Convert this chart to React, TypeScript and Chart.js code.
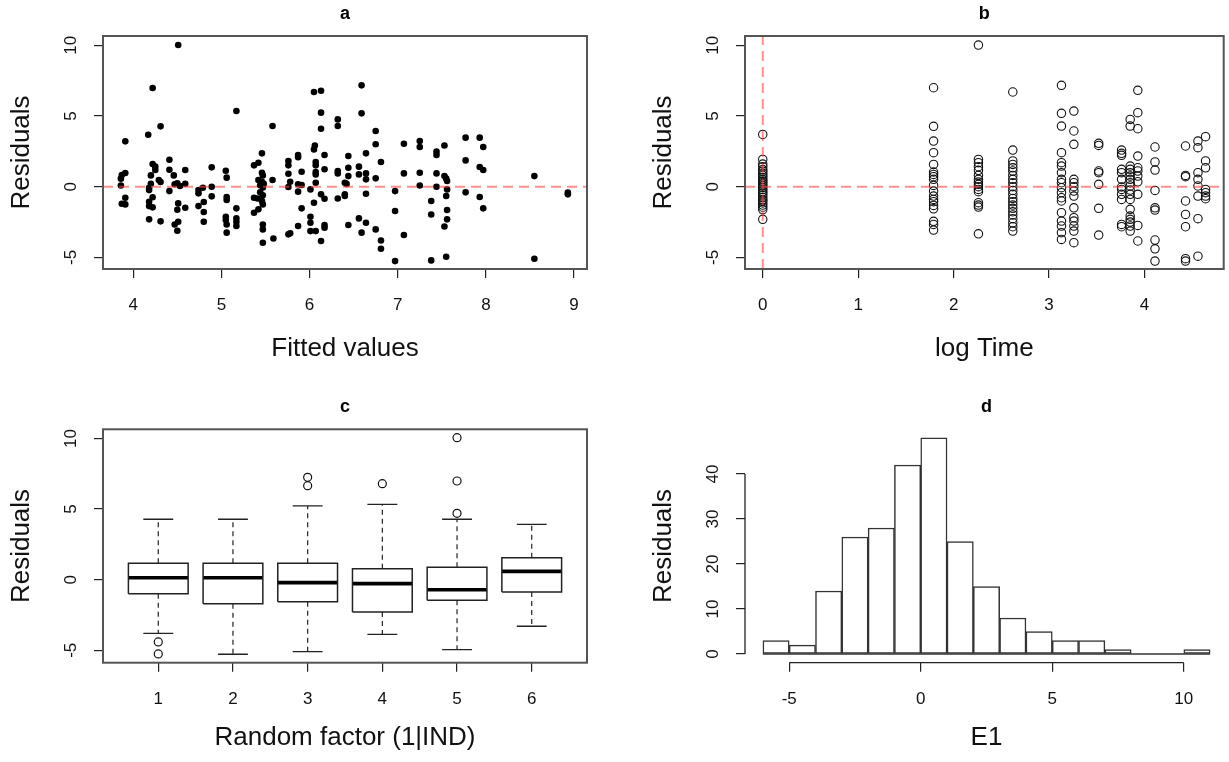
import React, { useEffect, useRef } from "react";
import { Chart, registerables } from "chart.js";

Chart.register(...registerables);

const FONT = '"Liberation Sans", Arial, Helvetica, sans-serif';
const RED = "rgba(255, 70, 70, 0.6)";

// ---------- Panel a: residuals vs fitted values ----------
const A_FITTED = [
  3.91, 3.91, 3.87, 3.86, 3.86, 3.91, 3.87, 3.91,
  4.22, 4.31, 4.17, 4.22, 4.25, 4.25, 4.2, 4.29, 4.31, 4.2, 4.18, 4.18, 4.22, 4.18, 4.18, 4.22, 4.18, 4.31,
  4.51, 4.41, 4.41, 4.46, 4.59, 4.5, 4.47, 4.41, 4.59, 4.53, 4.51, 4.5, 4.59, 4.51, 4.47, 4.5,
  4.89, 4.74, 4.74, 4.79, 4.89, 4.89, 4.74, 4.8, 4.8, 4.8,
  5.17, 5.05, 5.06, 5.06, 5.06, 5.17, 5.05, 5.05, 5.06, 5.06, 5.17, 5.17, 5.17,
  5.46, 5.37, 5.42, 5.46, 5.47, 5.42, 5.46, 5.48, 5.44, 5.47, 5.44, 5.47, 5.37, 5.41, 5.46, 5.47, 5.37, 5.42, 5.47, 5.47, 5.47,
  5.58, 5.58, 5.59,
  5.76, 5.76, 5.87, 5.87, 5.91, 5.76, 5.78, 5.76, 5.87, 5.91, 5.87, 5.91, 5.87, 5.76, 5.78,
  6.05, 6.13, 6.13, 6.13, 6.06, 6.05, 6.17, 6.07, 6.07, 6.07, 6.07, 6.07, 6.17, 6.01, 6.05, 6.13, 6.17, 6.01, 6.01, 6.01, 6.07, 6.17, 6.17, 6.13,
  6.32, 6.32, 6.32, 6.32, 6.32, 6.44, 6.44, 6.44, 6.4, 6.42, 6.4, 6.4, 6.44,
  6.59, 6.59, 6.56, 6.56, 6.64, 6.64, 6.64, 6.64, 6.56, 6.64, 6.59,
  6.75, 6.75, 6.81, 6.75, 6.75, 6.81, 6.81,
  6.97, 6.97, 6.97,
  7.07, 7.07, 7.07,
  7.25, 7.25, 7.25, 7.25,
  7.38, 7.38, 7.38,
  7.44, 7.44, 7.44, 7.44,
  7.53, 7.53, 7.55, 7.56, 7.56, 7.55, 7.56, 7.56, 7.53, 7.55,
  7.77, 7.77, 7.77,
  7.93, 7.97, 7.93, 7.97, 7.93, 7.97,
  8.55, 8.55,
  8.93, 8.93,
];
const A_RESID = [
  3.21, 0.97, 0.83, 0.57, 0.09, -0.78, -1.2, -1.25,
  6.98, 4.27, 3.68, 1.6, 1.42, 1.18, 0.8, 0.47, 0.33, 0.21, -0.07, -0.24, -0.75, -1.06, -1.37, -1.46, -2.31, -2.45,
  10.02, 1.91, 1.2, 0.8, 1.18, 0.24, 0.17, -0.31, 0.21, 0.05, -1.18, -1.63, -1.49, -2.48, -2.67, -3.11,
  1.37, -0.24, -0.47, -0.07, 0.0, -0.68, -1.37, -1.08, -1.79, -2.48,
  5.35, 1.13, 0.64, -0.73, -0.94, -1.53, -2.12, -2.36, -2.67, -3.25, -2.24, -2.5, -2.78,
  2.36, 1.51, 1.7, 0.99, 0.8, 0.47, 0.35, 0.2, 0.1, -0.05, -0.4, -0.6, -0.78, -0.83, -1.01, -1.25, -1.84, -1.6, -2.67, -3.02, -3.96,
  4.29, 0.47, -3.66,
  1.82, 1.51, 2.24, 2.08, 1.06, 0.92, 0.35, -0.02, 0.17, 0.12, -0.35, -1.53, -2.78, -3.37, -3.3,
  6.7, 6.79, 5.24, 4.1, 2.92, 2.64, 2.24, 1.75, 1.51, 1.04, 0.87, 0.28, 1.23, -0.19, -1.13, -0.54, -0.85, -2.12, -2.55, -3.14, -3.14, -2.71, -2.9, -3.84,
  4.76, 4.29, 1.11, 0.94, -0.83, 2.17, 1.34, 0.75, 0.28, 0.2, -0.54, -0.66, -2.71,
  7.17, 5.19, 1.42, 0.87, 2.36, 0.94, 0.52, -0.5, -2.24, -2.55, -3.25,
  3.94, 3.0, 1.75, 0.59, -3.02, -3.8, -4.39,
  -0.31, -1.72, -5.26,
  3.04, 0.94, -3.42,
  3.23, 2.81, 0.99, 0.09,
  -1.01, -1.96, -5.21,
  2.48, 2.24, 0.94, 0.0,
  2.92, 0.75, 0.57, 0.4, -0.19, -0.66, -1.65, -2.31, -2.81, -4.95,
  3.47, 1.86, -0.4,
  3.47, 2.81, 1.39, 1.18, -0.73, -1.53,
  0.75, -5.09,
  -0.42, -0.54,
];
const A_X_TICKS = [4, 5, 6, 7, 8, 9];
const A_X_RANGE = [3.657, 9.147];

// ---------- Panel b: residuals vs log time ----------
const B_LOG_TIME = [0, 1.79, 2.26, 2.62, 3.13, 3.26, 3.52, 3.76, 3.85, 3.93, 4.11, 4.43, 4.56, 4.64];
const B_RESID = [
  [3.7, 1.93, 1.6, 1.42, 1.21, 1.1, 0.94, 0.8, 0.66, 0.52, 0.41, 0.3, 0.18, 0.06, -0.05, -0.2, -0.33, -0.45, -0.58, -0.75, -0.9, -1.0, -1.15, -1.3, -1.45, -1.62, -2.31],
  [7.0, 4.27, 3.23, 2.41, 1.58, 1.04, 0.87, 0.71, 0.52, 0.09, -0.31, -0.66, -0.9, -1.06, -1.32, -1.56, -2.45, -2.67, -3.07],
  [10.02, 1.93, 1.7, 1.42, 1.16, 0.8, 0.52, 0.33, 0.17, 0.0, -0.19, -0.35, -1.13, -1.3, -1.44, -3.33],
  [6.7, 2.59, 1.82, 1.58, 1.34, 1.11, 0.8, 0.52, 0.28, 0.0, -0.26, -0.54, -0.83, -1.06, -1.3, -1.53, -1.77, -2.0, -2.26, -2.55, -2.83, -3.14],
  [7.17, 5.19, 4.29, 2.41, 1.7, 1.46, 0.99, 0.52, 0.28, -0.07, -0.42, -0.78, -1.01, -1.84, -2.43, -2.78, -3.25, -3.73],
  [5.35, 3.94, 3.0, 0.52, 0.28, 0.0, -0.31, -0.66, -1.49, -2.19, -2.43, -2.78, -3.14, -3.96],
  [3.07, 2.92, 1.11, 0.99, 0.17, -1.53, -3.42],
  [2.59, 2.36, 2.22, 1.23, 0.99, 0.52, -0.02, -0.19, -0.54, -0.9, -2.67, -2.83],
  [4.76, 4.29, 1.46, 1.23, 0.99, 0.75, 0.52, 0.28, 0.05, -0.24, -0.54, -0.9, -1.6, -2.08, -2.31, -2.5, -2.78, -3.14],
  [6.82, 5.24, 4.1, 2.17, 1.34, 1.11, 0.75, 0.35, -0.54, -2.74, -3.84],
  [2.81, 1.75, 1.18, -0.26, -1.49, -1.65, -3.77, -4.39, -5.26],
  [2.88, 0.8, 0.71, -1.01, -1.96, -2.83, -5.09, -5.26],
  [3.23, 2.76, 0.99, 0.52, 0.05, -0.66, -2.26, -4.91],
  [3.54, 1.82, 1.34, -0.19, -0.42, -0.66, -0.85],
];
const B_X_TICKS = [0, 1, 2, 3, 4];
const B_X_RANGE = [-0.186, 4.83];

// shared residual axis (a, b, c)
const RES_TICKS = [-5, 0, 5, 10];
const RES_RANGE = [-5.82, 10.66];

// ---------- Panel c: boxplots by random factor ----------
const C_GROUPS = [1, 2, 3, 4, 5, 6];
const C_LOWER = [-3.8, -5.28, -5.1, -3.87, -4.96, -3.3];
const C_Q1 = [-0.99, -1.7, -1.56, -2.29, -1.46, -0.87];
const C_MEDIAN = [0.14, 0.14, -0.21, -0.28, -0.71, 0.59];
const C_Q3 = [1.16, 1.16, 1.16, 0.78, 0.88, 1.56];
const C_UPPER = [4.28, 4.28, 5.22, 5.34, 4.28, 3.92];
const C_OUT_GROUP = [1, 1, 3, 3, 4, 5, 5, 5];
const C_OUT_RESID = [-4.41, -5.26, 7.25, 6.66, 6.8, 10.06, 6.99, 4.7];
const C_X_RANGE = [0.26, 6.74];
const C_Y_RANGE = [-5.88, 10.65];

// ---------- Panel d: histogram of E1 ----------
const D_BIN_EDGES = [-6, -5, -4, -3, -2, -1, 0, 1, 2, 3, 4, 5, 6, 7, 8, 9, 10, 11];
const D_COUNTS = [3, 2, 14, 26, 28, 42, 48, 25, 15, 8, 5, 3, 3, 1, 0, 0, 1];
const D_X_TICKS = [-5, 0, 5, 10];
const D_Y_TICKS = [0, 10, 20, 30, 40];
const D_X_RANGE = [-6.68, 11.68];
const D_Y_RANGE = [-1.92, 49.92];

// ---------- styling helpers ----------
const BOX_HALF = 0.4;
const STAPLE_HALF = 0.2;
const tickFont = { family: FONT, size: 17 };
const axisTitleFont = { family: FONT, size: 26 };
const INK = "#111";

const boxPlugin = {
  id: "rbox",
  afterDraw(chart: any) {
    const { ctx, chartArea: a } = chart;
    ctx.save();
    ctx.strokeStyle = "#555";
    ctx.lineWidth = 2;
    ctx.strokeRect(a.left, a.top, a.right - a.left, a.bottom - a.top);
    ctx.restore();
  },
};

const histAxisPlugin = {
  id: "raxis",
  afterDraw(chart: any) {
    const { ctx, chartArea: a, scales } = chart;
    const x = scales.x;
    const y = scales.y;
    ctx.save();
    ctx.strokeStyle = "#222";
    ctx.lineWidth = 1.3;
    ctx.beginPath();
    ctx.moveTo(x.getPixelForValue(D_X_TICKS[0]), a.bottom);
    ctx.lineTo(x.getPixelForValue(D_X_TICKS[D_X_TICKS.length - 1]), a.bottom);
    ctx.moveTo(a.left, y.getPixelForValue(D_Y_TICKS[0]));
    ctx.lineTo(a.left, y.getPixelForValue(D_Y_TICKS[D_Y_TICKS.length - 1]));
    ctx.stroke();
    ctx.restore();
  },
};

type FrameSpec = {
  title: string;
  xTitle: string;
  xRange: number[];
  xTicks: number[];
  yRange: number[];
  yTicks: number[];
  xAxisHeight: number;
  xTitlePad: number;
  rightPad: number;
  titlePadTop: number;
  titlePadBottom: number;
};

function frameOptions(p: FrameSpec) {
  const grid = {
    display: true,
    drawOnChartArea: false,
    drawTicks: true,
    tickLength: 9,
    color: "#222",
    lineWidth: 1.2,
    offset: false,
  };
  return {
    responsive: false,
    animation: false,
    devicePixelRatio: 1,
    layout: { padding: { left: 0, right: p.rightPad, top: 0, bottom: 0 } },
    plugins: {
      legend: { display: false },
      tooltip: { enabled: false },
      title: {
        display: true,
        text: p.title,
        fullSize: false,
        color: "#000",
        font: { family: FONT, size: 18, weight: "bold" },
        padding: { top: p.titlePadTop, bottom: p.titlePadBottom },
      },
    },
    scales: {
      x: {
        type: "linear",
        position: "bottom",
        min: p.xRange[0],
        max: p.xRange[1],
        offset: false,
        afterBuildTicks: (s: any) => {
          s.ticks = p.xTicks.map((v) => ({ value: v }));
        },
        afterFit: (s: any) => {
          s.height = p.xAxisHeight;
        },
        grid,
        border: { display: false },
        ticks: {
          font: tickFont,
          color: INK,
          padding: 17,
          minRotation: 0,
          maxRotation: 0,
          autoSkip: false,
          callback: (v: any) => String(v),
        },
        title: {
          display: true,
          text: p.xTitle,
          color: INK,
          font: axisTitleFont,
          padding: { top: 0, bottom: p.xTitlePad },
        },
      },
      y: {
        type: "linear",
        position: "left",
        min: p.yRange[0],
        max: p.yRange[1],
        afterBuildTicks: (s: any) => {
          s.ticks = p.yTicks.map((v) => ({ value: v }));
        },
        afterFit: (s: any) => {
          s.width = 103;
        },
        grid,
        border: { display: false },
        ticks: {
          font: tickFont,
          color: INK,
          padding: 13,
          minRotation: 90,
          maxRotation: 90,
          crossAlign: "center",
          autoSkip: false,
          callback: (v: any) => String(v),
        },
        title: {
          display: true,
          text: "Residuals",
          color: INK,
          font: axisTitleFont,
          padding: { top: 6, bottom: 0 },
        },
      },
    },
  };
}

const TOP = { xAxisHeight: 124, xTitlePad: 29, titlePadTop: 3, titlePadBottom: 11.4 };
const BOTTOM = { xAxisHeight: 99.3, xTitlePad: 8.4, titlePadTop: 3, titlePadBottom: 11.7 };

function dashed(data: any[]) {
  return {
    type: "line",
    data,
    borderColor: RED,
    borderWidth: 2,
    borderDash: [10, 6],
    pointRadius: 0,
    fill: false,
  };
}

function makeA() {
  const pts = A_FITTED.map((x, i) => ({ x, y: A_RESID[i] })).filter((p) => p.y !== undefined);
  return {
    type: "scatter",
    data: {
      datasets: [
        dashed([
          { x: A_X_RANGE[0], y: 0 },
          { x: A_X_RANGE[1], y: 0 },
        ]),
        {
          data: pts,
          pointRadius: 3.3,
          pointBackgroundColor: "#000",
          pointBorderColor: "#000",
          pointBorderWidth: 0,
        },
      ],
    },
    options: frameOptions({
      title: "a",
      xTitle: "Fitted values",
      xRange: A_X_RANGE,
      xTicks: A_X_TICKS,
      yRange: RES_RANGE,
      yTicks: RES_TICKS,
      rightPad: 55,
      ...TOP,
    }),
    plugins: [boxPlugin],
  };
}

function makeB() {
  const pts = B_LOG_TIME.flatMap((t, i) => B_RESID[i].map((r) => ({ x: t, y: r })));
  return {
    type: "scatter",
    data: {
      datasets: [
        dashed([
          { x: B_X_RANGE[0], y: 0 },
          { x: B_X_RANGE[1], y: 0 },
        ]),
        dashed([
          { x: 0, y: RES_RANGE[0] },
          { x: 0, y: RES_RANGE[1] },
        ]),
        {
          data: pts,
          pointRadius: 4.2,
          pointBackgroundColor: "rgba(0,0,0,0)",
          pointBorderColor: "#111",
          pointBorderWidth: 1.1,
        },
      ],
    },
    options: frameOptions({
      title: "b",
      xTitle: "log Time",
      xRange: B_X_RANGE,
      xTicks: B_X_TICKS,
      yRange: RES_RANGE,
      yTicks: RES_TICKS,
      rightPad: 1,
      ...TOP,
    }),
    plugins: [boxPlugin],
  };
}

function makeC() {
  const boxes: any[] = [];
  const medians: any[] = [];
  const whiskers: any[] = [];
  const staples: any[] = [];
  C_GROUPS.forEach((g, i) => {
    boxes.push(
      { x: g - BOX_HALF, y: C_Q1[i] },
      { x: g + BOX_HALF, y: C_Q1[i] },
      { x: g + BOX_HALF, y: C_Q3[i] },
      { x: g - BOX_HALF, y: C_Q3[i] },
      { x: g - BOX_HALF, y: C_Q1[i] },
      { x: g, y: null }
    );
    medians.push({ x: g - BOX_HALF, y: C_MEDIAN[i] }, { x: g + BOX_HALF, y: C_MEDIAN[i] }, { x: g, y: null });
    whiskers.push(
      { x: g, y: C_Q3[i] },
      { x: g, y: C_UPPER[i] },
      { x: g, y: null },
      { x: g, y: C_Q1[i] },
      { x: g, y: C_LOWER[i] },
      { x: g, y: null }
    );
    staples.push(
      { x: g - STAPLE_HALF, y: C_UPPER[i] },
      { x: g + STAPLE_HALF, y: C_UPPER[i] },
      { x: g, y: null },
      { x: g - STAPLE_HALF, y: C_LOWER[i] },
      { x: g + STAPLE_HALF, y: C_LOWER[i] },
      { x: g, y: null }
    );
  });
  const outliers = C_OUT_GROUP.map((g, i) => ({ x: g, y: C_OUT_RESID[i] }));
  const seg = (data: any[], width: number, dash: number[] = []) => ({
    type: "line",
    data,
    borderColor: "#222",
    borderWidth: width,
    borderDash: dash,
    pointRadius: 0,
    spanGaps: false,
    fill: false,
  });
  return {
    type: "scatter",
    data: {
      datasets: [
        seg(whiskers, 1.2, [5, 4]),
        seg(staples, 1.3),
        seg(boxes, 1.5),
        { ...seg(medians, 3.6), borderColor: "#000" },
        {
          data: outliers,
          pointRadius: 4,
          pointBackgroundColor: "rgba(0,0,0,0)",
          pointBorderColor: "#111",
          pointBorderWidth: 1.2,
        },
      ],
    },
    options: frameOptions({
      title: "c",
      xTitle: "Random factor (1|IND)",
      xRange: C_X_RANGE,
      xTicks: C_GROUPS,
      yRange: C_Y_RANGE,
      yTicks: RES_TICKS,
      rightPad: 55,
      ...BOTTOM,
    }),
    plugins: [boxPlugin],
  };
}

function makeD() {
  const bars = D_COUNTS.map((c, i) => ({ x: (D_BIN_EDGES[i] + D_BIN_EDGES[i + 1]) / 2, y: c }));
  const opts: any = frameOptions({
    title: "d",
    xTitle: "E1",
    xRange: D_X_RANGE,
    xTicks: D_X_TICKS,
    yRange: D_Y_RANGE,
    yTicks: D_Y_TICKS,
    rightPad: 1,
    ...BOTTOM,
  });
  opts.scales.x.grid = { ...opts.scales.x.grid, offset: false };
  return {
    type: "scatter",
    data: {
      datasets: [
        {
          type: "bar",
          data: bars,
          backgroundColor: "#fff",
          borderColor: "#333",
          borderWidth: 1.5,
          borderSkipped: false,
          barPercentage: 1,
          categoryPercentage: 1,
        },
        {
          type: "line",
          data: [
            { x: D_BIN_EDGES[0], y: 0 },
            { x: D_BIN_EDGES[D_BIN_EDGES.length - 1], y: 0 },
          ],
          borderColor: "#333",
          borderWidth: 1.5,
          pointRadius: 0,
          fill: false,
        },
      ],
    },
    options: opts,
    plugins: [histAxisPlugin],
  };
}

function Panel({ make, x, y, w, h }: { make: () => any; x: number; y: number; w: number; h: number }) {
  const ref = useRef<HTMLCanvasElement>(null);
  useEffect(() => {
    const chart = new Chart(ref.current as HTMLCanvasElement, make());
    return () => chart.destroy();
  }, []);
  return (
    <canvas
      ref={ref}
      width={w}
      height={h}
      style={{ position: "absolute", left: x, top: y, width: w, height: h, display: "block" }}
    />
  );
}

export default function App() {
  return (
    <div
      style={{
        position: "absolute",
        left: 0,
        top: 0,
        width: 1229,
        height: 762,
        background: "#fff",
        overflow: "hidden",
      }}
    >
      <Panel make={makeA} x={0} y={0} w={642} h={393} />
      <Panel make={makeB} x={642} y={0} w={587} h={393} />
      <Panel make={makeC} x={0} y={393} w={642} h={369} />
      <Panel make={makeD} x={642} y={393} w={587} h={369} />
    </div>
  );
}
